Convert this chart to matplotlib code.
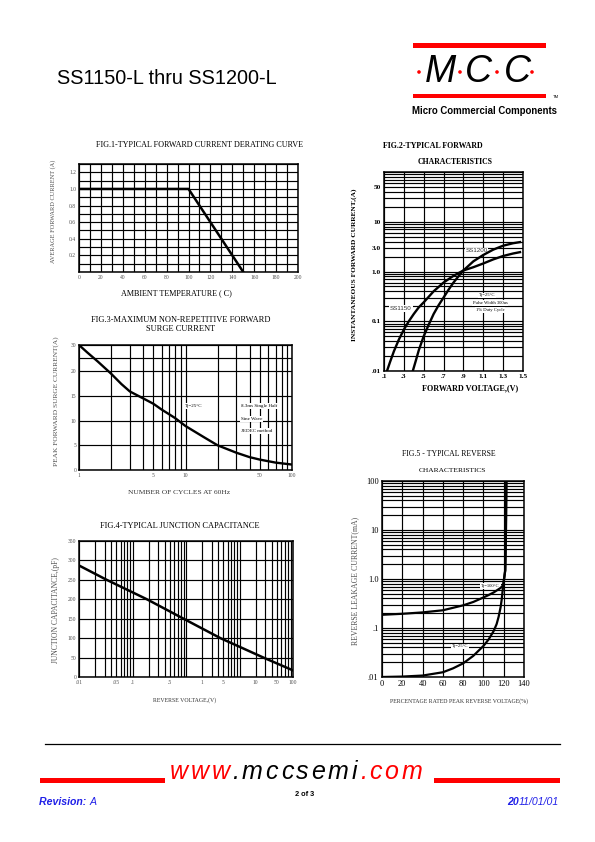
import matplotlib
matplotlib.use('Agg')
import matplotlib.pyplot as plt
import numpy as np
from matplotlib.ticker import FixedLocator, NullFormatter, LogLocator, MultipleLocator
from matplotlib.patches import Rectangle, Circle

# ---------------- data ----------------
fig1_temp = [0, 100, 150]
fig1_current = [1.0, 1.0, 0.0]
fig1_xticks = [0, 20, 40, 60, 80, 100, 120, 140, 160, 180, 200]
fig1_yticks = [0.2, 0.4, 0.6, 0.8, 1.0, 1.2]
fig1_ylabels = ['0.2', '0.4', '0.6', '0.8', '1.0', '1.2']

fig2_v_ss1150 = [0.13, 0.16, 0.2, 0.25, 0.3, 0.35, 0.4, 0.45, 0.5, 0.6, 0.7, 0.8, 0.9,
                 1.0, 1.1, 1.2, 1.3, 1.4, 1.47]
fig2_i_ss1150 = [0.01, 0.015, 0.025, 0.043, 0.068, 0.1, 0.14, 0.19, 0.24, 0.4, 0.6, 0.82, 1.05,
                 1.22, 1.45, 1.75, 2.05, 2.3, 2.45]
fig2_v_ss1200 = [0.39, 0.42, 0.45, 0.5, 0.55, 0.6, 0.65, 0.7, 0.75, 0.8, 0.85, 0.9,
                 1.0, 1.1, 1.2, 1.3, 1.4, 1.47]
fig2_i_ss1200 = [0.01, 0.016, 0.026, 0.05, 0.085, 0.14, 0.21, 0.3, 0.43, 0.6, 0.8, 1.05,
                 1.6, 2.15, 2.75, 3.3, 3.7, 3.9]
fig2_xticks = [0.1, 0.3, 0.5, 0.7, 0.9, 1.1, 1.3, 1.5]
fig2_xlabels = ['.1', '.3', '.5', '.7', '.9', '1.1', '1.3', '1.5']
fig2_yticks = [0.01, 0.1, 1.0, 3.0, 10, 50]
fig2_ylabels = ['.01', '0.1', '1.0', '3.0', '10', '50']

fig3_cycles = [1, 1.2, 1.5, 2, 2.5, 3, 4, 5, 6, 7, 8, 10, 15, 20, 30, 40, 50, 70, 100]
fig3_current = [30, 27.1, 23.7, 19.5, 17.4, 15.9, 14.5, 13.4, 12.2, 11.3, 10.5, 8.9, 6.6,
                5.0, 3.5, 2.6, 2.1, 1.5, 1.1]
fig3_xticks = [1, 5, 10, 50, 100]
fig3_xlabels = ['1', '5', '10', '50', '100']
fig3_yticks = [0, 5, 10, 15, 20, 30]
fig3_ygrid_extra = [25]

fig4_voltage = [0.01, 0.033, 0.186, 0.9, 4.4, 28, 100]
fig4_capacitance = [287, 250, 200, 150, 100, 50, 17]
fig4_xtick_pos = [0.01, 0.05, 0.1, 0.5, 2, 5, 20, 50, 100]
fig4_xlabels = ['.01', '.05', '.1', '.5', '1', '5', '10', '50', '100']
fig4_yticks = [0, 50, 100, 150, 200, 250, 300, 350]

fig5_pct_100 = [0, 20, 40, 60, 80, 90, 100, 105, 110, 114, 117, 119.5, 121.5, 122.2, 122.6]
fig5_i_100 = [0.186, 0.195, 0.208, 0.23, 0.29, 0.34, 0.42, 0.47, 0.53, 0.6, 0.66, 0.75, 1.5, 10, 100]
fig5_pct_25 = [0, 20, 40, 60, 70, 80, 90, 100, 105, 110, 113, 115, 117, 118, 119.5, 121.5, 122.2, 122.6]
fig5_i_25 = [0.01, 0.0102, 0.0107, 0.0125, 0.015, 0.019, 0.027, 0.043, 0.058, 0.086, 0.12, 0.17,
             0.27, 0.38, 0.75, 1.5, 10, 100]
fig5_xticks = [0, 20, 40, 60, 80, 100, 120, 140]
fig5_yticks = [0.01, 0.1, 1.0, 10, 100]
fig5_ylabels = ['.01', '.1', '1.0', '10', '100']

# ---------------- page ----------------
plt.rcParams['font.family'] = ['Liberation Serif', 'DejaVu Serif']
W, H = 595, 842
fig = plt.figure(figsize=(5.95, 8.42), dpi=100)
fig.patch.set_facecolor('white')

deco = fig.add_axes([0, 0, 1, 1])
deco.set_xlim(0, W)
deco.set_ylim(H, 0)
deco.axis('off')
renderer = fig.canvas.get_renderer()

GRAY = '#505050'
RED = '#ff0000'
BLUE = '#2020e8'
SANS = ['Liberation Sans', 'DejaVu Sans']


def axpx(l, t, r, b):
    return fig.add_axes([l / W, 1 - b / H, (r - l) / W, (b - t) / H])


def T(x, y, s, **kw):
    kw.setdefault('ha', 'center')
    kw.setdefault('va', 'center')
    return deco.text(x, y, s, **kw)


def spaced(x0, x1, y, chars, colors, **kw):
    ts = [T(0, y, ch, ha='left', color=c, **kw) for ch, c in zip(chars, colors)]
    ws = [t.get_window_extent(renderer).width for t in ts]
    gap = (x1 - x0 - sum(ws)) / (len(ts) - 1)
    x = x0
    for t, w in zip(ts, ws):
        t.set_x(x)
        x += w + gap


def style(ax, size=4, color=GRAY, pad=2):
    for s in ax.spines.values():
        s.set_linewidth(1.1)
        s.set_color('black')
    ax.tick_params(which='both', length=0, labelsize=size, labelcolor=color, pad=pad)
    ax.grid(which='both', color='black', lw=0.85)
    ax.set_axisbelow(True)


# header
T(57, 79, 'SS1150-L thru SS1200-L', ha='left', fontsize=14.3, family=SANS)
deco.add_patch(Rectangle((413, 43), 133, 4.5, color=RED, lw=0))
deco.add_patch(Rectangle((413, 93.5), 133, 4.5, color=RED, lw=0))
for cx, ch in zip([440, 478.5, 517], ['M', 'C', 'C']):
    T(cx, 72, ch, fontsize=27, style='italic', family=SANS)
for dx in [419, 460, 497, 532]:
    deco.add_patch(Circle((dx, 72), 1.8, color=RED, lw=0))
T(556, 97, 'TM', fontsize=3, family=SANS)
T(484, 111, 'Micro Commercial Components', fontsize=6.9, fontweight='bold', family=SANS)

# footer
deco.plot([45, 560], [743.5, 743.5], color='black', lw=0.9)
deco.add_patch(Rectangle((40, 778), 125, 5, color=RED, lw=0))
deco.add_patch(Rectangle((434, 778), 126, 5, color=RED, lw=0))
site = 'www.mccsemi.com'
site_cols = [RED] * 3 + ['black'] * 8 + [RED] * 4
spaced(170, 422, 772, site, site_cols, fontsize=18, style='italic', family=SANS)
T(305, 795, '2 of 3', fontsize=5.3, fontweight='bold', family=SANS)
rv = T(39, 802, 'Revision: ', ha='left', fontsize=7.6, fontweight='bold', style='italic', color=BLUE, family=SANS)
rw = rv.get_window_extent(renderer).width
T(39 + rw, 802, 'A', ha='left', fontsize=7.6, style='italic', color=BLUE, family=SANS)
d2 = T(559, 802, '11/01/01', ha='right', fontsize=7.6, style='italic', color=BLUE, family=SANS)
dw = d2.get_window_extent(renderer).width
T(559 - dw, 802, '20', ha='right', fontsize=7.6, fontweight='bold', style='italic', color=BLUE, family=SANS)

# ---------------- FIG 1 ----------------
ax1 = axpx(79, 164, 298, 272)
ax1.set_xlim(0, 200)
ax1.set_ylim(0, 1.3)
ax1.set_xticks(fig1_xticks)
ax1.xaxis.set_minor_locator(MultipleLocator(10))
ax1.set_yticks(fig1_yticks, fig1_ylabels)
ax1.yaxis.set_minor_locator(MultipleLocator(0.1))
style(ax1, size=4)
ax1.plot(fig1_temp, fig1_current, color='black', lw=1.8, zorder=3)
T(199, 145, 'FIG.1-TYPICAL FORWARD CURRENT DERATING CURVE', fontsize=5.9)
T(53, 211, 'AVERAGE FORWARD CURRENT (A)', rotation=90, fontsize=4.6, color=GRAY)
T(176, 293, 'AMBIENT TEMPERATURE ( C)', fontsize=5.9)

# ---------------- FIG 2 ----------------
ax2 = axpx(384, 172, 523, 371)
ax2.set_yscale('log')
ax2.set_xlim(0.1, 1.5)
ax2.set_ylim(0.01, 100)
ax2.set_xticks(fig2_xticks, fig2_xlabels, fontweight='bold')
ax2.yaxis.set_major_locator(FixedLocator(fig2_yticks + [100]))
ax2.set_yticks(fig2_yticks + [100], fig2_ylabels + [''], fontweight='bold')
ax2.yaxis.set_minor_locator(LogLocator(base=10, subs=np.arange(1, 10)))
ax2.yaxis.set_minor_formatter(NullFormatter())
style(ax2, size=5.3, color='black', pad=2.5)
ax2.xaxis.grid(which='minor', visible=False)
ax2.plot(fig2_v_ss1150, fig2_i_ss1150, color='black', lw=1.7, zorder=3)
ax2.plot(fig2_v_ss1200, fig2_i_ss1200, color='black', lw=1.7, zorder=3)
box = dict(facecolor='white', edgecolor='none', pad=0.6)
ax2.text(0.92, 2.6, 'SS1200', fontsize=4.5, family=SANS, color='#333', va='center', bbox=box, zorder=2)
ax2.text(0.16, 0.18, 'SS1150', fontsize=4.5, family=SANS, color='#333', va='center', bbox=box, zorder=2)
ax2.text(1.14, 0.33, 'Tj=25°C', fontsize=3.3, ha='center', va='center', bbox=box, zorder=2)
ax2.text(1.17, 0.23, 'Pulse Width 300us', fontsize=3.3, ha='center', va='center', bbox=box, zorder=2)
ax2.text(1.17, 0.17, '1% Duty Cycle', fontsize=3.3, ha='center', va='center', bbox=box, zorder=2)
T(383, 146, 'FIG.2-TYPICAL FORWARD', ha='left', fontsize=5.7, fontweight='bold')
T(455, 162, 'CHARACTERISTICS', fontsize=5.6, fontweight='bold')
T(354, 265, 'INSTANTANEOUS FORWARD CURRENT,(A)', rotation=90, fontsize=5.3, fontweight='bold')
T(470, 388, 'FORWARD VOLTAGE,(V)', fontsize=5.9, fontweight='bold')

# ---------------- FIG 3 ----------------
def f3_fwd(y):
    y = np.asarray(y, dtype=float)
    return np.where(y <= 20, y, 20 + (y - 20) * 0.53)


def f3_inv(u):
    u = np.asarray(u, dtype=float)
    return np.where(u <= 20, u, 20 + (u - 20) / 0.53)


ax3 = axpx(79, 345, 292, 470)
ax3.set_xscale('log')
ax3.set_yscale('function', functions=(f3_fwd, f3_inv))
ax3.set_xlim(1, 100)
ax3.set_ylim(0, 30)
ax3.set_xticks(fig3_xticks, fig3_xlabels)
ax3.xaxis.set_minor_locator(LogLocator(base=10, subs=np.arange(1, 10)))
ax3.xaxis.set_minor_formatter(NullFormatter())
ax3.yaxis.set_major_locator(FixedLocator(fig3_yticks))
ax3.set_yticks(fig3_yticks, [str(v) for v in fig3_yticks])
ax3.yaxis.set_minor_locator(FixedLocator(fig3_ygrid_extra))
ax3.yaxis.set_minor_formatter(NullFormatter())
style(ax3, size=4)
ax3.plot(fig3_cycles, fig3_current, color='black', lw=1.7, zorder=3)
ax3.text(12, 12.9, 'Tj=25°C', fontsize=3.6, ha='center', va='center', bbox=box, zorder=2)
ax3.text(33, 12.9, '8.3ms Single Half', fontsize=3.6, ha='left', va='center', bbox=box, zorder=2)
ax3.text(33, 10.3, 'Sine Wave', fontsize=3.6, ha='left', va='center', bbox=box, zorder=2)
ax3.text(33, 7.9, 'JEDEC method', fontsize=3.6, ha='left', va='center', bbox=box, zorder=2)
T(181, 320, 'FIG.3-MAXIMUM NON-REPETITIVE FORWARD', fontsize=6)
T(181, 329, 'SURGE CURRENT', fontsize=6)
T(56, 401, 'PEAK FORWARD SURGE CURRENT(A)', rotation=90, fontsize=5.3, color=GRAY)
T(179, 493, 'NUMBER OF CYCLES AT 60Hz', fontsize=5.4, color='#333')

# ---------------- FIG 4 ----------------
ax4 = axpx(79, 541, 293, 677)
ax4.set_xscale('log')
ax4.set_xlim(0.01, 100)
ax4.set_ylim(0, 350)
ax4.xaxis.set_major_locator(FixedLocator(fig4_xtick_pos))
ax4.set_xticks(fig4_xtick_pos, fig4_xlabels)
ax4.xaxis.set_minor_locator(LogLocator(base=10, subs=np.arange(1, 10)))
ax4.xaxis.set_minor_formatter(NullFormatter())
ax4.set_yticks(fig4_yticks)
style(ax4, size=4)
ax4.plot(fig4_voltage, fig4_capacitance, color='black', lw=1.8, zorder=3)
T(180, 526, 'FIG.4-TYPICAL JUNCTION CAPACITANCE', fontsize=6)
T(56, 610, 'JUNCTION CAPACITANCE,(pF)', rotation=90, fontsize=5.5, color=GRAY)
T(185, 700, 'REVERSE VOLTAGE,(V)', fontsize=4.2, color='#333')

# ---------------- FIG 5 ----------------
ax5 = axpx(382, 481, 524, 677)
ax5.set_yscale('log')
ax5.set_xlim(0, 140)
ax5.set_ylim(0.01, 100)
ax5.set_xticks(fig5_xticks)
ax5.yaxis.set_major_locator(FixedLocator(fig5_yticks))
ax5.set_yticks(fig5_yticks, fig5_ylabels)
ax5.yaxis.set_minor_locator(LogLocator(base=10, subs=np.arange(1, 10)))
ax5.yaxis.set_minor_formatter(NullFormatter())
style(ax5, size=6, color='black', pad=2.5)
ax5.xaxis.grid(which='minor', visible=False)
ax5.plot(fig5_pct_100, fig5_i_100, color='black', lw=1.6, zorder=3)
ax5.plot(fig5_pct_25, fig5_i_25, color='black', lw=1.6, zorder=3)
ax5.text(107, 0.72, 'Tj=100°C', fontsize=3.3, ha='center', va='center', bbox=box, zorder=2)
ax5.text(77, 0.042, 'Tj=25°C', fontsize=3.3, ha='center', va='center', bbox=box, zorder=2)
T(449, 454, 'FIG.5 - TYPICAL REVERSE', fontsize=5.6)
T(452, 470, 'CHARACTERISTICS', fontsize=5.4)
T(355, 581, 'REVERSE LEAKAGE CURRENT(mA)', rotation=90, fontsize=5.6, color=GRAY)
T(459, 701, 'PERCENTAGE RATED PEAK REVERSE VOLTAGE(%)', fontsize=4.2, color='#333')

fig.savefig('out.png', dpi=100, facecolor='white')
